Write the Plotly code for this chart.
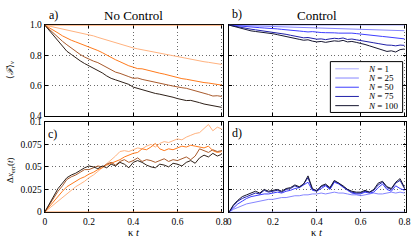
import plotly.graph_objects as go

# ---------------- data ----------------
KT = [0.00, 0.02, 0.04, 0.06, 0.08, 0.10, 0.12, 0.14, 0.16, 0.18,
      0.20, 0.22, 0.24, 0.26, 0.28, 0.30, 0.32, 0.34, 0.36, 0.38,
      0.40, 0.42, 0.44, 0.46, 0.48, 0.50, 0.52, 0.54, 0.56, 0.58,
      0.60, 0.62, 0.64, 0.66, 0.68, 0.70, 0.72, 0.74, 0.76, 0.78, 0.80]
KT_FLAT = [0.00, 0.80]

N_LABELS = ["N = 1", "N = 25", "N = 50", "N = 75", "N = 100"]

# a) fidelity, no control
FA_N1 = [1.0, 1.0]
FA_N25 = [1.000, 0.994, 0.988, 0.981, 0.975, 0.969, 0.962, 0.956, 0.950, 0.943,
          0.937, 0.929, 0.919, 0.910, 0.899, 0.891, 0.883, 0.874, 0.864, 0.856,
          0.849, 0.843, 0.837, 0.832, 0.827, 0.822, 0.816, 0.810, 0.804, 0.797,
          0.790, 0.785, 0.779, 0.773, 0.769, 0.764, 0.758, 0.754, 0.749, 0.745, 0.740]
FA_N50 = [1.000, 0.984, 0.966, 0.948, 0.929, 0.912, 0.900, 0.889, 0.878, 0.867,
          0.857, 0.845, 0.832, 0.818, 0.801, 0.785, 0.771, 0.758, 0.743, 0.731,
          0.722, 0.712, 0.711, 0.703, 0.694, 0.689, 0.682, 0.676, 0.668, 0.659,
          0.651, 0.646, 0.642, 0.636, 0.629, 0.626, 0.620, 0.617, 0.611, 0.604, 0.603]
FA_N75 = [1.000, 0.972, 0.946, 0.920, 0.893, 0.870, 0.848, 0.826, 0.806, 0.789,
          0.773, 0.762, 0.752, 0.735, 0.718, 0.703, 0.689, 0.681, 0.672, 0.659,
          0.648, 0.650, 0.641, 0.634, 0.626, 0.619, 0.615, 0.608, 0.603, 0.597,
          0.590, 0.586, 0.582, 0.574, 0.569, 0.562, 0.553, 0.541, 0.531, 0.533, 0.528]
FA_N100 = [1.000, 0.965, 0.930, 0.895, 0.860, 0.827, 0.806, 0.782, 0.764, 0.746,
           0.731, 0.719, 0.703, 0.684, 0.664, 0.648, 0.638, 0.628, 0.622, 0.608,
           0.590, 0.581, 0.577, 0.568, 0.557, 0.548, 0.543, 0.537, 0.531, 0.523,
           0.514, 0.509, 0.501, 0.502, 0.492, 0.487, 0.478, 0.472, 0.466, 0.462, 0.456]

# b) fidelity, control
FB_N1 = [1.0, 1.0]
FB_N25 = [1.000, 0.999, 0.998, 0.997, 0.996, 0.995, 0.995, 0.994, 0.993, 0.992,
          0.990, 0.989, 0.988, 0.987, 0.985, 0.985, 0.984, 0.983, 0.981, 0.980,
          0.979, 0.978, 0.977, 0.976, 0.975, 0.975, 0.974, 0.973, 0.971, 0.970,
          0.969, 0.969, 0.968, 0.967, 0.966, 0.966, 0.965, 0.965, 0.964, 0.963, 0.963]
FB_N50 = [1.000, 0.997, 0.994, 0.991, 0.989, 0.986, 0.985, 0.983, 0.981, 0.980,
          0.978, 0.975, 0.972, 0.968, 0.966, 0.963, 0.961, 0.958, 0.955, 0.957,
          0.953, 0.951, 0.950, 0.952, 0.949, 0.947, 0.948, 0.945, 0.947, 0.944,
          0.940, 0.937, 0.933, 0.930, 0.928, 0.925, 0.922, 0.918, 0.917, 0.912, 0.909]
FB_N75 = [1.000, 0.994, 0.988, 0.982, 0.977, 0.973, 0.969, 0.965, 0.961, 0.957,
          0.954, 0.948, 0.943, 0.939, 0.933, 0.929, 0.924, 0.916, 0.918, 0.911,
          0.907, 0.909, 0.904, 0.909, 0.913, 0.910, 0.915, 0.905, 0.908, 0.903,
          0.899, 0.893, 0.888, 0.883, 0.878, 0.872, 0.868, 0.867, 0.863, 0.868, 0.866]
FB_N100 = [1.000, 0.992, 0.984, 0.976, 0.968, 0.962, 0.958, 0.955, 0.951, 0.947,
           0.943, 0.937, 0.930, 0.924, 0.917, 0.910, 0.906, 0.900, 0.903, 0.894,
           0.889, 0.892, 0.886, 0.891, 0.896, 0.893, 0.899, 0.889, 0.892, 0.886,
           0.881, 0.872, 0.863, 0.855, 0.845, 0.836, 0.826, 0.830, 0.822, 0.838, 0.842]

# c) error, no control
DC_N1 = [0.0, 0.0]
DC_N25 = [0.000, 0.004, 0.008, 0.012, 0.016, 0.021, 0.025, 0.028, 0.031, 0.034,
          0.038, 0.041, 0.045, 0.049, 0.053, 0.057, 0.062, 0.067, 0.068, 0.067,
          0.069, 0.071, 0.070, 0.073, 0.075, 0.072, 0.076, 0.078, 0.077, 0.079,
          0.081, 0.080, 0.083, 0.085, 0.087, 0.088, 0.092, 0.097, 0.090, 0.094, 0.092]
DC_N50 = [0.000, 0.006, 0.012, 0.017, 0.023, 0.028, 0.031, 0.034, 0.037, 0.039,
          0.042, 0.044, 0.047, 0.049, 0.052, 0.054, 0.056, 0.058, 0.061, 0.063,
          0.065, 0.066, 0.070, 0.069, 0.072, 0.076, 0.070, 0.068, 0.070, 0.069,
          0.071, 0.073, 0.072, 0.074, 0.073, 0.072, 0.071, 0.073, 0.068, 0.066, 0.067]
DC_N75 = [0.000, 0.008, 0.016, 0.023, 0.029, 0.036, 0.039, 0.041, 0.044, 0.047,
          0.047, 0.049, 0.051, 0.050, 0.053, 0.055, 0.052, 0.056, 0.058, 0.055,
          0.057, 0.060, 0.056, 0.058, 0.057, 0.055, 0.057, 0.059, 0.056, 0.058,
          0.057, 0.059, 0.061, 0.058, 0.062, 0.070, 0.068, 0.066, 0.069, 0.067, 0.068]
DC_N100 = [0.000, 0.009, 0.018, 0.026, 0.032, 0.038, 0.041, 0.043, 0.046, 0.049,
           0.051, 0.050, 0.048, 0.051, 0.049, 0.053, 0.051, 0.055, 0.053, 0.049,
           0.055, 0.057, 0.055, 0.052, 0.050, 0.049, 0.053, 0.052, 0.050, 0.054,
           0.053, 0.051, 0.055, 0.057, 0.054, 0.060, 0.063, 0.061, 0.065, 0.062, 0.064]

# d) error, control
DD_N1 = [0.0, 0.0]
DD_N25 = [0.000, 0.003, 0.005, 0.007, 0.009, 0.010, 0.011, 0.012, 0.013, 0.014,
          0.014, 0.015, 0.016, 0.016, 0.017, 0.018, 0.018, 0.019, 0.019, 0.020,
          0.020, 0.021, 0.020, 0.021, 0.022, 0.021, 0.021, 0.020, 0.019, 0.019,
          0.018, 0.019, 0.020, 0.021, 0.020, 0.020, 0.021, 0.022, 0.021, 0.022, 0.021]
DD_N50 = [0.000, 0.005, 0.009, 0.012, 0.015, 0.017, 0.018, 0.019, 0.020, 0.020,
          0.021, 0.022, 0.021, 0.023, 0.024, 0.026, 0.027, 0.030, 0.033, 0.024,
          0.023, 0.026, 0.029, 0.025, 0.033, 0.031, 0.027, 0.024, 0.021, 0.020,
          0.020, 0.022, 0.021, 0.022, 0.027, 0.031, 0.025, 0.023, 0.029, 0.026, 0.024]
DD_N75 = [0.000, 0.007, 0.012, 0.015, 0.017, 0.019, 0.021, 0.020, 0.024, 0.022,
          0.023, 0.024, 0.022, 0.025, 0.026, 0.029, 0.027, 0.031, 0.038, 0.025,
          0.024, 0.028, 0.030, 0.026, 0.034, 0.032, 0.028, 0.025, 0.022, 0.021,
          0.021, 0.023, 0.022, 0.024, 0.030, 0.033, 0.027, 0.025, 0.032, 0.035, 0.026]
DD_N100 = [0.000, 0.008, 0.013, 0.017, 0.019, 0.021, 0.023, 0.021, 0.025, 0.023,
           0.024, 0.025, 0.023, 0.026, 0.027, 0.030, 0.028, 0.031, 0.040, 0.026,
           0.023, 0.029, 0.031, 0.027, 0.035, 0.032, 0.029, 0.025, 0.023, 0.022,
           0.022, 0.024, 0.022, 0.025, 0.032, 0.034, 0.028, 0.026, 0.033, 0.037, 0.027]

X_TICKS = [0, 0.2, 0.4, 0.6, 0.8]
X_TICKTEXT = ["0", "0.2", "0.4", "0.6", "0.8"]
YF_TICKS = [0.4, 0.6, 0.8, 1.0]
YF_TICKTEXT = ["0.4", "0.6", "0.8", "1.0"]
YE_TICKS = [0, 0.025, 0.05, 0.075, 0.1]
YE_TICKTEXT = ["0", "0.025", "0.05", "0.075", "0.1"]

# ---------------- styling ----------------
W, H = 415, 247
FONT = "Liberation Serif"
ORANGES = ["#ff9a55", "#ffb27f", "#ff7a1c", "#a85a2c", "#2e2018"]
BLUES = ["#b0b0ff", "#8585ff", "#3d3dff", "#2020a8", "#161630"]


def px(x):
    return x / W


def py(y):
    return 1 - y / H


fig = go.Figure()

panels = [
    ("x", "y", ORANGES, [FA_N1, FA_N25, FA_N50, FA_N75, FA_N100]),
    ("x2", "y2", BLUES, [FB_N1, FB_N25, FB_N50, FB_N75, FB_N100]),
    ("x3", "y3", ORANGES, [DC_N1, DC_N25, DC_N50, DC_N75, DC_N100]),
    ("x4", "y4", BLUES, [DD_N1, DD_N25, DD_N50, DD_N75, DD_N100]),
]
for xa, ya, cols, series in panels:
    for i, (lab, s) in enumerate(zip(N_LABELS, series)):
        xs = KT_FLAT if i == 0 else KT
        fig.add_trace(go.Scatter(x=xs, y=s, mode="lines", name=lab,
                                 xaxis=xa, yaxis=ya, showlegend=False, hoverinfo="skip",
                                 line=dict(color=cols[i], width=1)))

axis_common = dict(showline=True, linecolor="black", linewidth=1, mirror="ticks",
                   ticks="inside", ticklen=3, tickcolor="black", tickwidth=1,
                   showgrid=True, gridcolor="#6a6a6a", griddash="1px,2.5px", gridwidth=1,
                   zeroline=False, layer="below traces",
                   tickfont=dict(family=FONT, size=9.5, color="black"))

XR = [0, 0.805]
XA_DOM = [px(43.5), px(224.6)]
XB_DOM = [px(231), px(410.5)]
YT_DOM = [py(115.5), py(20.5)]
YB_DOM = [py(216.1), py(121.7)]

layout = dict(
    width=W, height=H, margin=dict(l=0, r=0, t=0, b=0),
    paper_bgcolor="white", plot_bgcolor="white", showlegend=False,
    hovermode=False,
    font=dict(family=FONT, size=10, color="black"),
    xaxis=dict(domain=XA_DOM, range=XR, anchor="y", tickvals=X_TICKS, ticktext=X_TICKTEXT,
               showticklabels=False, **axis_common),
    xaxis2=dict(domain=XB_DOM, range=XR, anchor="y2", tickvals=X_TICKS, ticktext=X_TICKTEXT,
                showticklabels=False, **axis_common),
    xaxis3=dict(domain=XA_DOM, range=XR, anchor="y3", tickvals=X_TICKS, ticktext=X_TICKTEXT,
                **axis_common),
    xaxis4=dict(domain=XB_DOM, range=XR, anchor="y4", tickvals=X_TICKS, ticktext=X_TICKTEXT,
                **axis_common),
    yaxis=dict(domain=YT_DOM, range=[0.4, 1.003], anchor="x", tickvals=YF_TICKS,
               ticktext=YF_TICKTEXT, **axis_common),
    yaxis2=dict(domain=YT_DOM, range=[0.4, 1.003], anchor="x2", tickvals=YF_TICKS,
                ticktext=YF_TICKTEXT, showticklabels=False, **axis_common),
    yaxis3=dict(domain=YB_DOM, range=[-0.0004, 0.1], anchor="x3", tickvals=YE_TICKS,
                ticktext=YE_TICKTEXT, **axis_common),
    yaxis4=dict(domain=YB_DOM, range=[-0.0004, 0.1], anchor="x4", tickvals=YE_TICKS,
                ticktext=YE_TICKTEXT, showticklabels=False, **axis_common),
)
fig.update_layout(**layout)

ann = []


def add_text(text, x, y, size, angle=0, xanchor="center", yanchor="middle"):
    ann.append(dict(text=text, x=px(x), y=py(y), xref="paper", yref="paper",
                    showarrow=False, xanchor=xanchor, yanchor=yanchor, textangle=angle,
                    font=dict(family=FONT, size=size, color="black")))


add_text("No Control", 134, 10.5, 13)
add_text("Control", 320, 10.5, 13)
add_text("a)", 52, 10.5, 12)
add_text("b)", 239, 9, 12)
add_text("c)", 51, 134, 12)
add_text("d)", 239.5, 133.5, 12)
add_text("κ<i> t</i>", 134, 237, 10.5)
add_text("κ<i> t</i>", 320, 237, 10.5)
add_text("⟨<i>ℱ</i>⟩<sub><i>ν</i></sub>", 8, 68, 9, angle=-90)
add_text("Δ<i>x</i><sub>err</sub>(<i>t</i>)", 8, 172, 9, angle=-90)

# manual legend (panel b)
shapes = [dict(type="rect", xref="paper", yref="paper", x0=px(334), x1=px(407.5),
               y0=py(112), y1=py(59), line=dict(color="black", width=1),
               fillcolor="white", layer="above")]
for i, lab in enumerate(N_LABELS):
    yy = 66.5 + 9.6 * i
    shapes.append(dict(type="line", xref="paper", yref="paper", x0=px(339), x1=px(363),
                       y0=py(yy), y1=py(yy), line=dict(color=BLUES[i], width=1),
                       layer="above"))
    n, rest = lab.split(" ", 1)
    add_text("<i>" + n + "</i> " + rest, 370, yy, 9, xanchor="left")

fig.update_layout(annotations=ann, shapes=shapes)
fig.write_html("out.html", config={"displayModeBar": False, "staticPlot": True},
               post_script="document.body.style.margin='0';document.body.style.overflow='hidden';")
